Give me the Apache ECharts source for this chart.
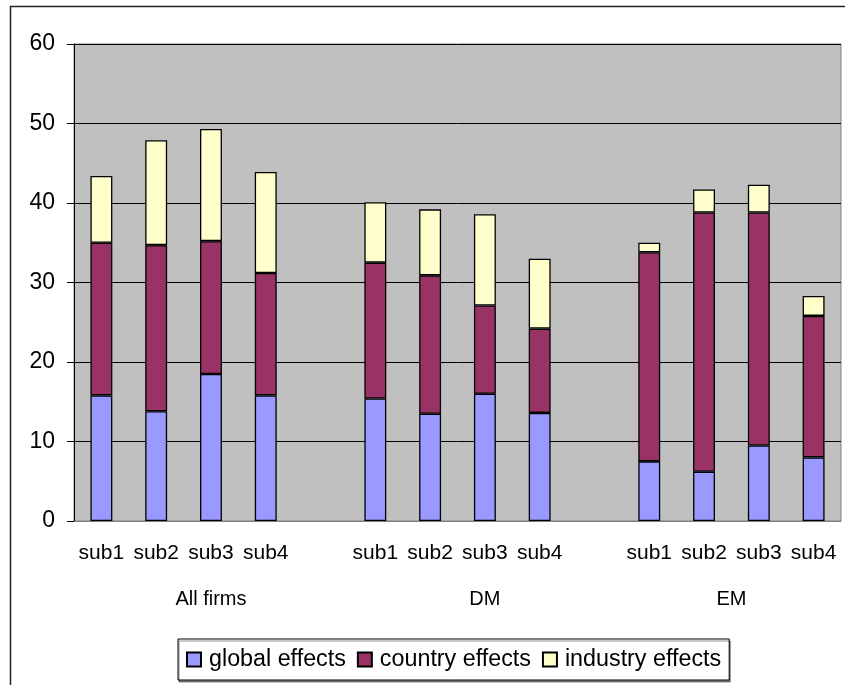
<!DOCTYPE html>
<html>
<head>
<meta charset="utf-8">
<script src="https://cdn.jsdelivr.net/npm/echarts@6/dist/echarts.min.js"></script>
<style>
html,body{margin:0;padding:0;background:#fff;}
#c{width:845px;height:685px;}
</style>
</head>
<body>
<div id="c"></div>
<script>
var categories = ['sub1','sub2','sub3','sub4','','sub1','sub2','sub3','sub4','','sub1','sub2','sub3','sub4'];
var globalEffects   = [15.8, 13.8, 18.5, 15.8, null, 15.4, 13.5, 16.0, 13.6, null, 7.5, 6.2, 9.5, 8.0];
var countryEffects  = [19.2, 20.9, 16.7, 15.4, null, 17.1, 17.4, 11.1, 10.6, null, 26.3, 32.6, 29.3, 17.8];
var industryEffects = [8.4, 13.2, 14.1, 12.7, null, 7.6, 8.3, 11.5, 8.8, null, 1.2, 2.9, 3.5, 2.5];
var groupNames = ['All firms', 'DM', 'EM'];
var groupCenters = [2.5, 7.5, 12];
var yTicks = [0, 10, 20, 30, 40, 50, 60];

var FONT = 'Liberation Sans, Arial, sans-serif';
var chart = echarts.init(document.getElementById('c'), null, {renderer: 'canvas'});

function barSeries(name, data, color) {
  return {
    name: name, type: 'bar', stack: 'total', data: data,
    barWidth: '40%',
    itemStyle: {color: color, borderColor: '#000', borderWidth: 1.3},
    emphasis: {disabled: true}
  };
}

chart.setOption({
  animation: false,
  backgroundColor: '#fff',
  graphic: [{
    type: 'rect', silent: true, z: -10,
    shape: {x: 10.5, y: 6.5, width: 1000, height: 1000},
    style: {fill: 'none', stroke: '#222', lineWidth: 1.5}
  }],
  grid: {
    left: 74, right: 4, top: 44, bottom: 164,
    show: true, backgroundColor: '#C0C0C0', borderColor: '#808080', borderWidth: 1
  },
  legend: {
    left: 178, top: 639,
    padding: [9, 8, 9, 8],
    backgroundColor: '#fff',
    borderColor: '#000', borderWidth: 1,
    shadowColor: 'rgba(0,0,0,0.45)', shadowOffsetX: 1, shadowOffsetY: 2, shadowBlur: 0,
    itemWidth: 14, itemHeight: 14, itemGap: 11,
    icon: 'rect',
    textStyle: {fontFamily: FONT, fontSize: 23.3, color: '#000', padding: [0, 0, 0, 3]},
    data: ['global effects', 'country effects', 'industry effects']
  },
  xAxis: [{
    type: 'category', data: categories,
    axisLine: {lineStyle: {color: '#808080'}},
    axisTick: {show: false},
    axisLabel: {interval: 0, margin: 22, fontFamily: FONT, fontSize: 21, color: '#000'}
  }, {
    type: 'value', position: 'bottom', min: 0, max: 14, interval: 0.5,
    axisLine: {show: false}, axisTick: {show: false}, splitLine: {show: false},
    axisLabel: {
      margin: 68, fontFamily: FONT, fontSize: 20, color: '#000',
      showMinLabel: true, showMaxLabel: true,
      formatter: function (v) {
        for (var i = 0; i < groupCenters.length; i++) {
          if (Math.abs(v - groupCenters[i]) < 1e-6) return groupNames[i];
        }
        return '';
      }
    }
  }],
  yAxis: {
    type: 'value', min: yTicks[0], max: yTicks[yTicks.length - 1], interval: 10,
    axisLine: {show: true, lineStyle: {color: '#000'}},
    axisTick: {show: true, length: 7, lineStyle: {color: '#000'}},
    axisLabel: {margin: 19, fontFamily: FONT, fontSize: 23, color: '#000'},
    splitLine: {lineStyle: {color: '#000', width: 1}}
  },
  series: [
    barSeries('global effects', globalEffects, '#9999FF'),
    barSeries('country effects', countryEffects, '#993366'),
    barSeries('industry effects', industryEffects, '#FFFFCC')
  ]
});
</script>
</body>
</html>
